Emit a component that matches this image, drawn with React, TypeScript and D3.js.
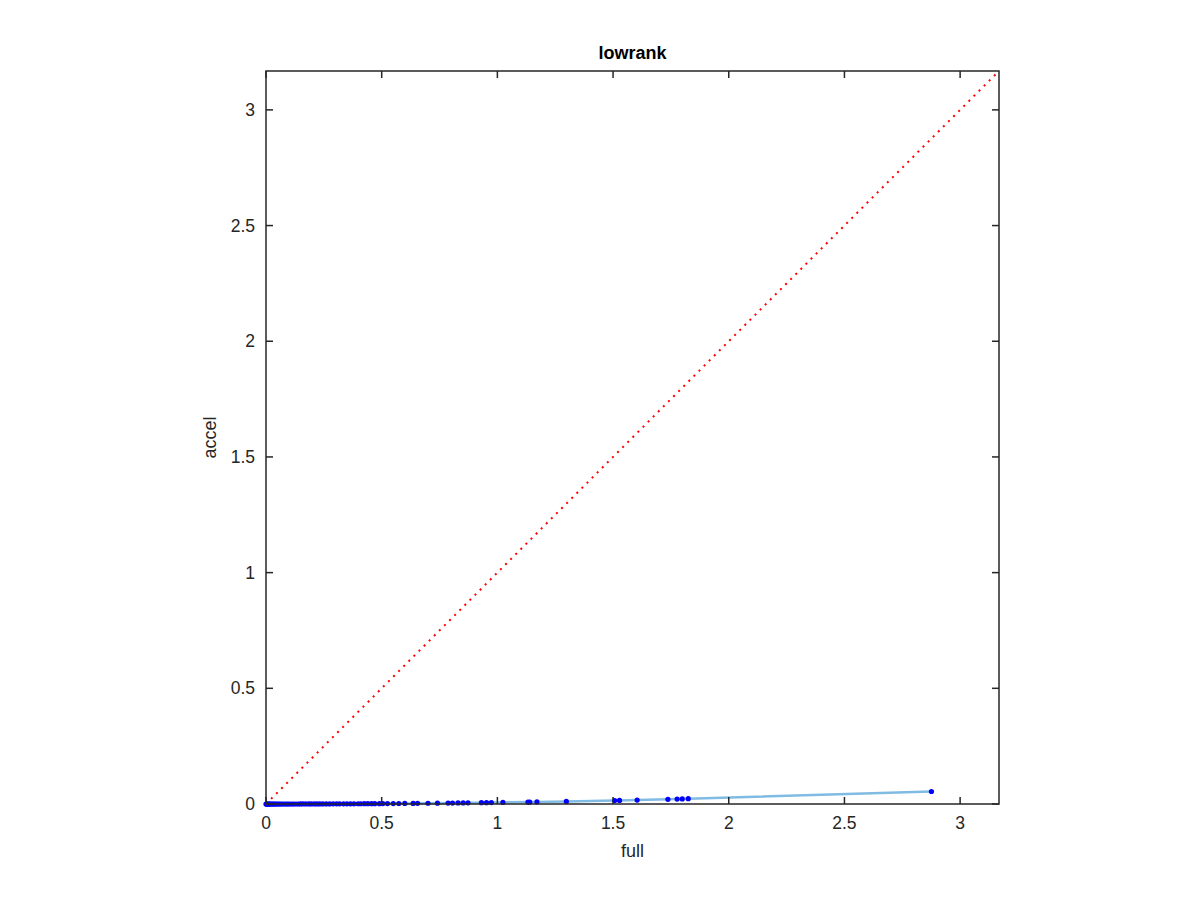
import React, { useEffect, useRef } from "react";
import * as d3 from "d3";

// full (x) values, sorted
const fullVals = [
  0, 0.002, 0.004, 0.007, 0.01, 0.013, 0.017, 0.021, 0.026, 0.03, 0.035, 0.04,
  0.046, 0.052, 0.058, 0.065, 0.072, 0.08, 0.088, 0.095, 0.103, 0.112, 0.12,
  0.13, 0.14, 0.15, 0.16, 0.172, 0.185, 0.195, 0.208, 0.22, 0.232, 0.245, 0.26,
  0.275, 0.29, 0.305, 0.318, 0.335, 0.35, 0.365, 0.38, 0.398, 0.41, 0.425,
  0.44, 0.456, 0.47, 0.49, 0.505, 0.525, 0.55, 0.574, 0.6, 0.636, 0.655, 0.7,
  0.741, 0.787, 0.806, 0.83, 0.852, 0.873, 0.931, 0.953, 0.974, 1.024, 1.132,
  1.14, 1.171, 1.298, 1.507, 1.528, 1.604, 1.737, 1.777, 1.799, 1.825, 2.876,
];
// accel (y) values
const accelVals = [
  0, 0, 0, 0, 0, 0, 0, 0, 0, 0, 0, 0, 0, 0, 0, 0, 0, 0, 0.0001, 0.0001, 0.0001,
  0.0001, 0.0001, 0.0001, 0.0001, 0.0002, 0.0002, 0.0002, 0.0002, 0.0003,
  0.0003, 0.0003, 0.0004, 0.0004, 0.0005, 0.0005, 0.0006, 0.0006, 0.0007,
  0.0007, 0.0008, 0.0009, 0.0009, 0.001, 0.0011, 0.0012, 0.0013, 0.0014,
  0.0015, 0.0016, 0.0017, 0.0018, 0.002, 0.0021, 0.0023, 0.0026, 0.0028,
  0.0032, 0.0036, 0.004, 0.0042, 0.0045, 0.0047, 0.005, 0.0056, 0.0059, 0.0062,
  0.0068, 0.0083, 0.0085, 0.009, 0.011, 0.015, 0.0155, 0.017, 0.02, 0.0215,
  0.022, 0.023, 0.054,
];

const xTicks = [0, 0.5, 1, 1.5, 2, 2.5, 3];
const yTicks = [0, 0.5, 1, 1.5, 2, 2.5, 3];
const axisMax = 3.168;

const left = 266;
const right = 999;
const top = 71;
const bottom = 804;

export default function App() {
  const ref = useRef<SVGSVGElement>(null);

  useEffect(() => {
    const svg = d3.select(ref.current);
    svg.selectAll("*").remove();

    const x = d3.scaleLinear().domain([0, axisMax]).range([left, right]);
    const y = d3.scaleLinear().domain([0, axisMax]).range([bottom, top]);
    const font = "'Liberation Sans', Arial, Helvetica, sans-serif";
    const ink = "#262626";

    const pts = fullVals.map((v, i) => [v, accelVals[i]] as [number, number]);

    // diagonal reference
    svg
      .append("line")
      .attr("x1", x(0))
      .attr("y1", y(0))
      .attr("x2", x(axisMax))
      .attr("y2", y(axisMax))
      .attr("stroke", "#ff0000")
      .attr("stroke-width", 2)
      .attr("stroke-dasharray", "2,5.2");

    // connecting line
    const line = d3
      .line<[number, number]>()
      .x((d) => x(d[0]))
      .y((d) => y(d[1]));
    svg
      .append("path")
      .datum(pts)
      .attr("d", line)
      .attr("fill", "none")
      .attr("stroke", "#80bbe3")
      .attr("stroke-width", 2.5);

    // points
    svg
      .append("g")
      .selectAll("circle")
      .data(pts)
      .join("circle")
      .attr("cx", (d) => x(d[0]))
      .attr("cy", (d) => y(d[1]))
      .attr("r", 2.6)
      .attr("fill", "#0000ff");

    // box
    svg
      .append("rect")
      .attr("x", left)
      .attr("y", top)
      .attr("width", right - left)
      .attr("height", bottom - top)
      .attr("fill", "none")
      .attr("stroke", ink)
      .attr("stroke-width", 1.5);

    const tickLen = 7;
    const tg = svg.append("g").attr("stroke", ink).attr("stroke-width", 1.5);
    xTicks.forEach((t) => {
      tg.append("line").attr("x1", x(t)).attr("x2", x(t)).attr("y1", bottom).attr("y2", bottom - tickLen);
      tg.append("line").attr("x1", x(t)).attr("x2", x(t)).attr("y1", top).attr("y2", top + tickLen);
    });
    yTicks.forEach((t) => {
      tg.append("line").attr("x1", left).attr("x2", left + tickLen).attr("y1", y(t)).attr("y2", y(t));
      tg.append("line").attr("x1", right).attr("x2", right - tickLen).attr("y1", y(t)).attr("y2", y(t));
    });

    svg
      .append("g")
      .selectAll("text")
      .data(xTicks)
      .join("text")
      .attr("x", (d) => x(d))
      .attr("y", bottom + 25)
      .attr("text-anchor", "middle")
      .attr("font-family", font)
      .attr("font-size", 17.5)
      .attr("fill", ink)
      .text((d) => String(d));

    svg
      .append("g")
      .selectAll("text")
      .data(yTicks)
      .join("text")
      .attr("x", left - 11)
      .attr("y", (d) => y(d) + 6)
      .attr("text-anchor", "end")
      .attr("font-family", font)
      .attr("font-size", 17.5)
      .attr("fill", ink)
      .text((d) => String(d));

    svg
      .append("text")
      .attr("x", (left + right) / 2)
      .attr("y", 857)
      .attr("text-anchor", "middle")
      .attr("font-family", font)
      .attr("font-size", 18)
      .attr("fill", ink)
      .text("full");

    svg
      .append("text")
      .attr("transform", `translate(216,${(top + bottom) / 2}) rotate(-90)`)
      .attr("text-anchor", "middle")
      .attr("font-family", font)
      .attr("font-size", 18)
      .attr("fill", ink)
      .text("accel");

    svg
      .append("text")
      .attr("x", (left + right) / 2)
      .attr("y", 59)
      .attr("text-anchor", "middle")
      .attr("font-family", font)
      .attr("font-size", 18)
      .attr("font-weight", "bold")
      .attr("fill", "#000")
      .text("lowrank");
  }, []);

  return (
    <svg
      ref={ref}
      width={1200}
      height={900}
      style={{ position: "absolute", left: 0, top: 0, background: "#fff" }}
    />
  );
}
